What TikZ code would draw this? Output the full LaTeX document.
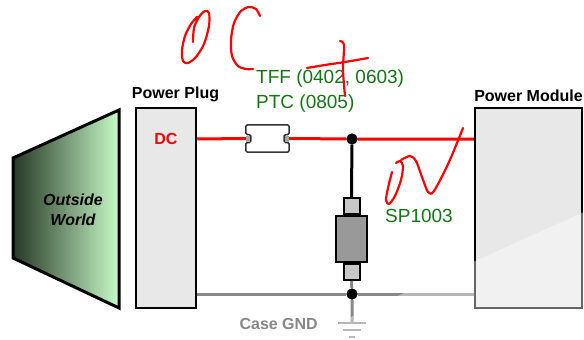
\documentclass[tikz,border=0pt]{standalone}
\usepackage{fontspec}
\setmainfont{Liberation Sans}
\usepackage{xcolor}
\usepackage{tikz}
\usetikzlibrary{calc,positioning}

\definecolor{partgreen}{RGB}{22,116,22}
\definecolor{wiregray}{RGB}{136,136,136}
\definecolor{boxgray}{RGB}{232,232,232}
\definecolor{worlddark}{RGB}{38,56,38}
\definecolor{worldlight}{RGB}{200,250,200}

\begin{document}
\begin{tikzpicture}
  [
    x=1pt, y=-1pt,
    block/.style={rectangle,draw=black,fill=boxgray,line width=2.5pt,inner sep=0pt,minimum width=60pt,minimum height=200pt},
    title/.style={font=\bfseries\fontsize{16}{18}\selectfont,inner sep=0pt},
    part/.style={font=\fontsize{19}{25}\selectfont,text=partgreen,inner sep=0pt,align=left},
    dcline/.style={draw=red,line width=3pt},
    gndline/.style={draw=wiregray,line width=3pt},
    lead/.style={draw=black,line width=3pt},
    dot/.style={circle,fill=black,inner sep=0pt,minimum size=11pt},
    tvsbody/.style={rectangle,draw=black,fill=black!40,line width=2pt,inner sep=0pt,minimum width=31pt,minimum height=46pt},
    tvscap/.style={rectangle,draw=black,fill=black!22,line width=2pt,inner sep=0pt,minimum width=16pt,minimum height=16pt},
    ink/.style={draw=red,line width=2.2pt,line cap=round,line join=round}
  ]
  \useasboundingbox (0,0) rectangle (584,340);

  % outside world
  \shade[left color=worlddark,right color=worldlight]
    (13,158) -- (119,110) -- (119,308) -- (13,258) -- cycle;
  \draw[line width=3pt,line join=miter]
    (13,158) -- (119,110) -- (119,308) -- (13,258) -- cycle;
  \node[font=\bfseries\itshape\fontsize{16}{20}\selectfont,align=center] (world) at (73,210) {Outside\\World};

  % plug and module
  \node[block] (plug) at (166,208) {};
  \node[block,minimum width=107pt] (module) at (528.5,208) {};
  \node[title,above right=5pt and -3pt of plug.north west] (plugtitle) {Power Plug};
  \node[title,above=5pt of module] (moduletitle) {Power Module};
  \node[title,text=red] (dc) at (166,139) {DC};

  % junctions and the clamp
  \node[dot] (jtop) at (352,139) {};
  \node[dot] (jbot) at (352,294) {};
  \node[tvsbody] (tvs) at (351.5,239) {};
  \node[tvscap,anchor=south] (captop) at (tvs.north) {};
  \node[tvscap,anchor=north] (capbot) at (tvs.south) {};
  \coordinate (gnd) at (352,323);

  % fuse body
  \node[minimum width=43pt,minimum height=27pt,inner sep=0pt] (fuse) at (267.5,138.5) {};

  % wires
  \draw[dcline] (plug.east |- dc) -- (fuse.west);
  \draw[dcline] (fuse.east) -- (jtop) -- (module.west |- jtop);
  \draw[gndline] (plug.east |- jbot) -- (jbot) -- (module.west |- jbot);
  \draw[gndline] (capbot.south) -- (jbot) -- (gnd);
  \draw[lead] (jtop) -- (captop.north);
  \node[dot] at (jtop) {};
  \node[dot] at (jbot) {};

  % ground
  \draw[wiregray,line width=2pt] ($(gnd)+(-14,0)$) -- ($(gnd)+(14,0)$);
  \draw[wiregray,line width=2pt] ($(gnd)+(-9,7)$) -- ($(gnd)+(9,7)$);
  \draw[wiregray,line width=2pt] ($(gnd)+(-3,14)$) -- ($(gnd)+(3,14)$);
  \node[title,text=wiregray,anchor=east] (gndlabel) at (318,324) {Case GND};

  % fuse outline with end notches
  \filldraw[fill=white,draw=black!80,line width=1.5pt,rounded corners=1.5pt]
    (fuse.north west) -- (fuse.north east) -- ($(fuse.east)+(0,-4)$) -- ++(-5,0) -- ++(0,8) -- ++(5,0)
    -- (fuse.south east) -- (fuse.south west) -- ($(fuse.west)+(0,4)$) -- ++(5,0) -- ++(0,-8) -- ++(-5,0) -- cycle;
  \fill[black!35] ($(fuse.west)+(0,-3)$) rectangle ++(4,6);
  \fill[black!35] ($(fuse.east)+(0,-3)$) rectangle ++(-4,6);

  % part names
  \node[part,anchor=north west] (fuselabel) at (256,70) {TFF (0402, 0603)\\PTC (0805)};
  \node[part,anchor=west] (tvslabel) at (385,216) {SP1003};

  % pen marks
  \draw[ink] plot[smooth] coordinates {(193,42) (194,28) (199,17) (205,11) (209,13) (209,26) (204,44) (196,57) (188,63) (183,61) (182,50) (185,36) (191,24) (197,17)};
  \draw[ink] plot[smooth] coordinates {(260,16) (256,9) (249,7) (241,11) (234,23) (231,40) (232,56) (238,66) (246,69) (253,69)};
  \draw[ink] plot[smooth] coordinates {(307,68) (325,65) (345,62) (368,58)};
  \draw[ink] plot[smooth] coordinates {(340,41) (344,45) (343,70) (345,96)};
  \draw[ink] plot[smooth] coordinates {(392,172) (388,188) (386,200) (389,204) (395,196) (401,180) (403,166) (400,161) (396,163)};
  \draw[ink] plot[smooth] coordinates {(401,160) (410,156) (416,161) (422,177) (428,192) (434,191) (449,162) (463,128)};

  % faded lower corner
  \fill[white,opacity=0.4] (300,340) -- (584,212) -- (584,340) -- cycle;
\end{tikzpicture}
\end{document}
